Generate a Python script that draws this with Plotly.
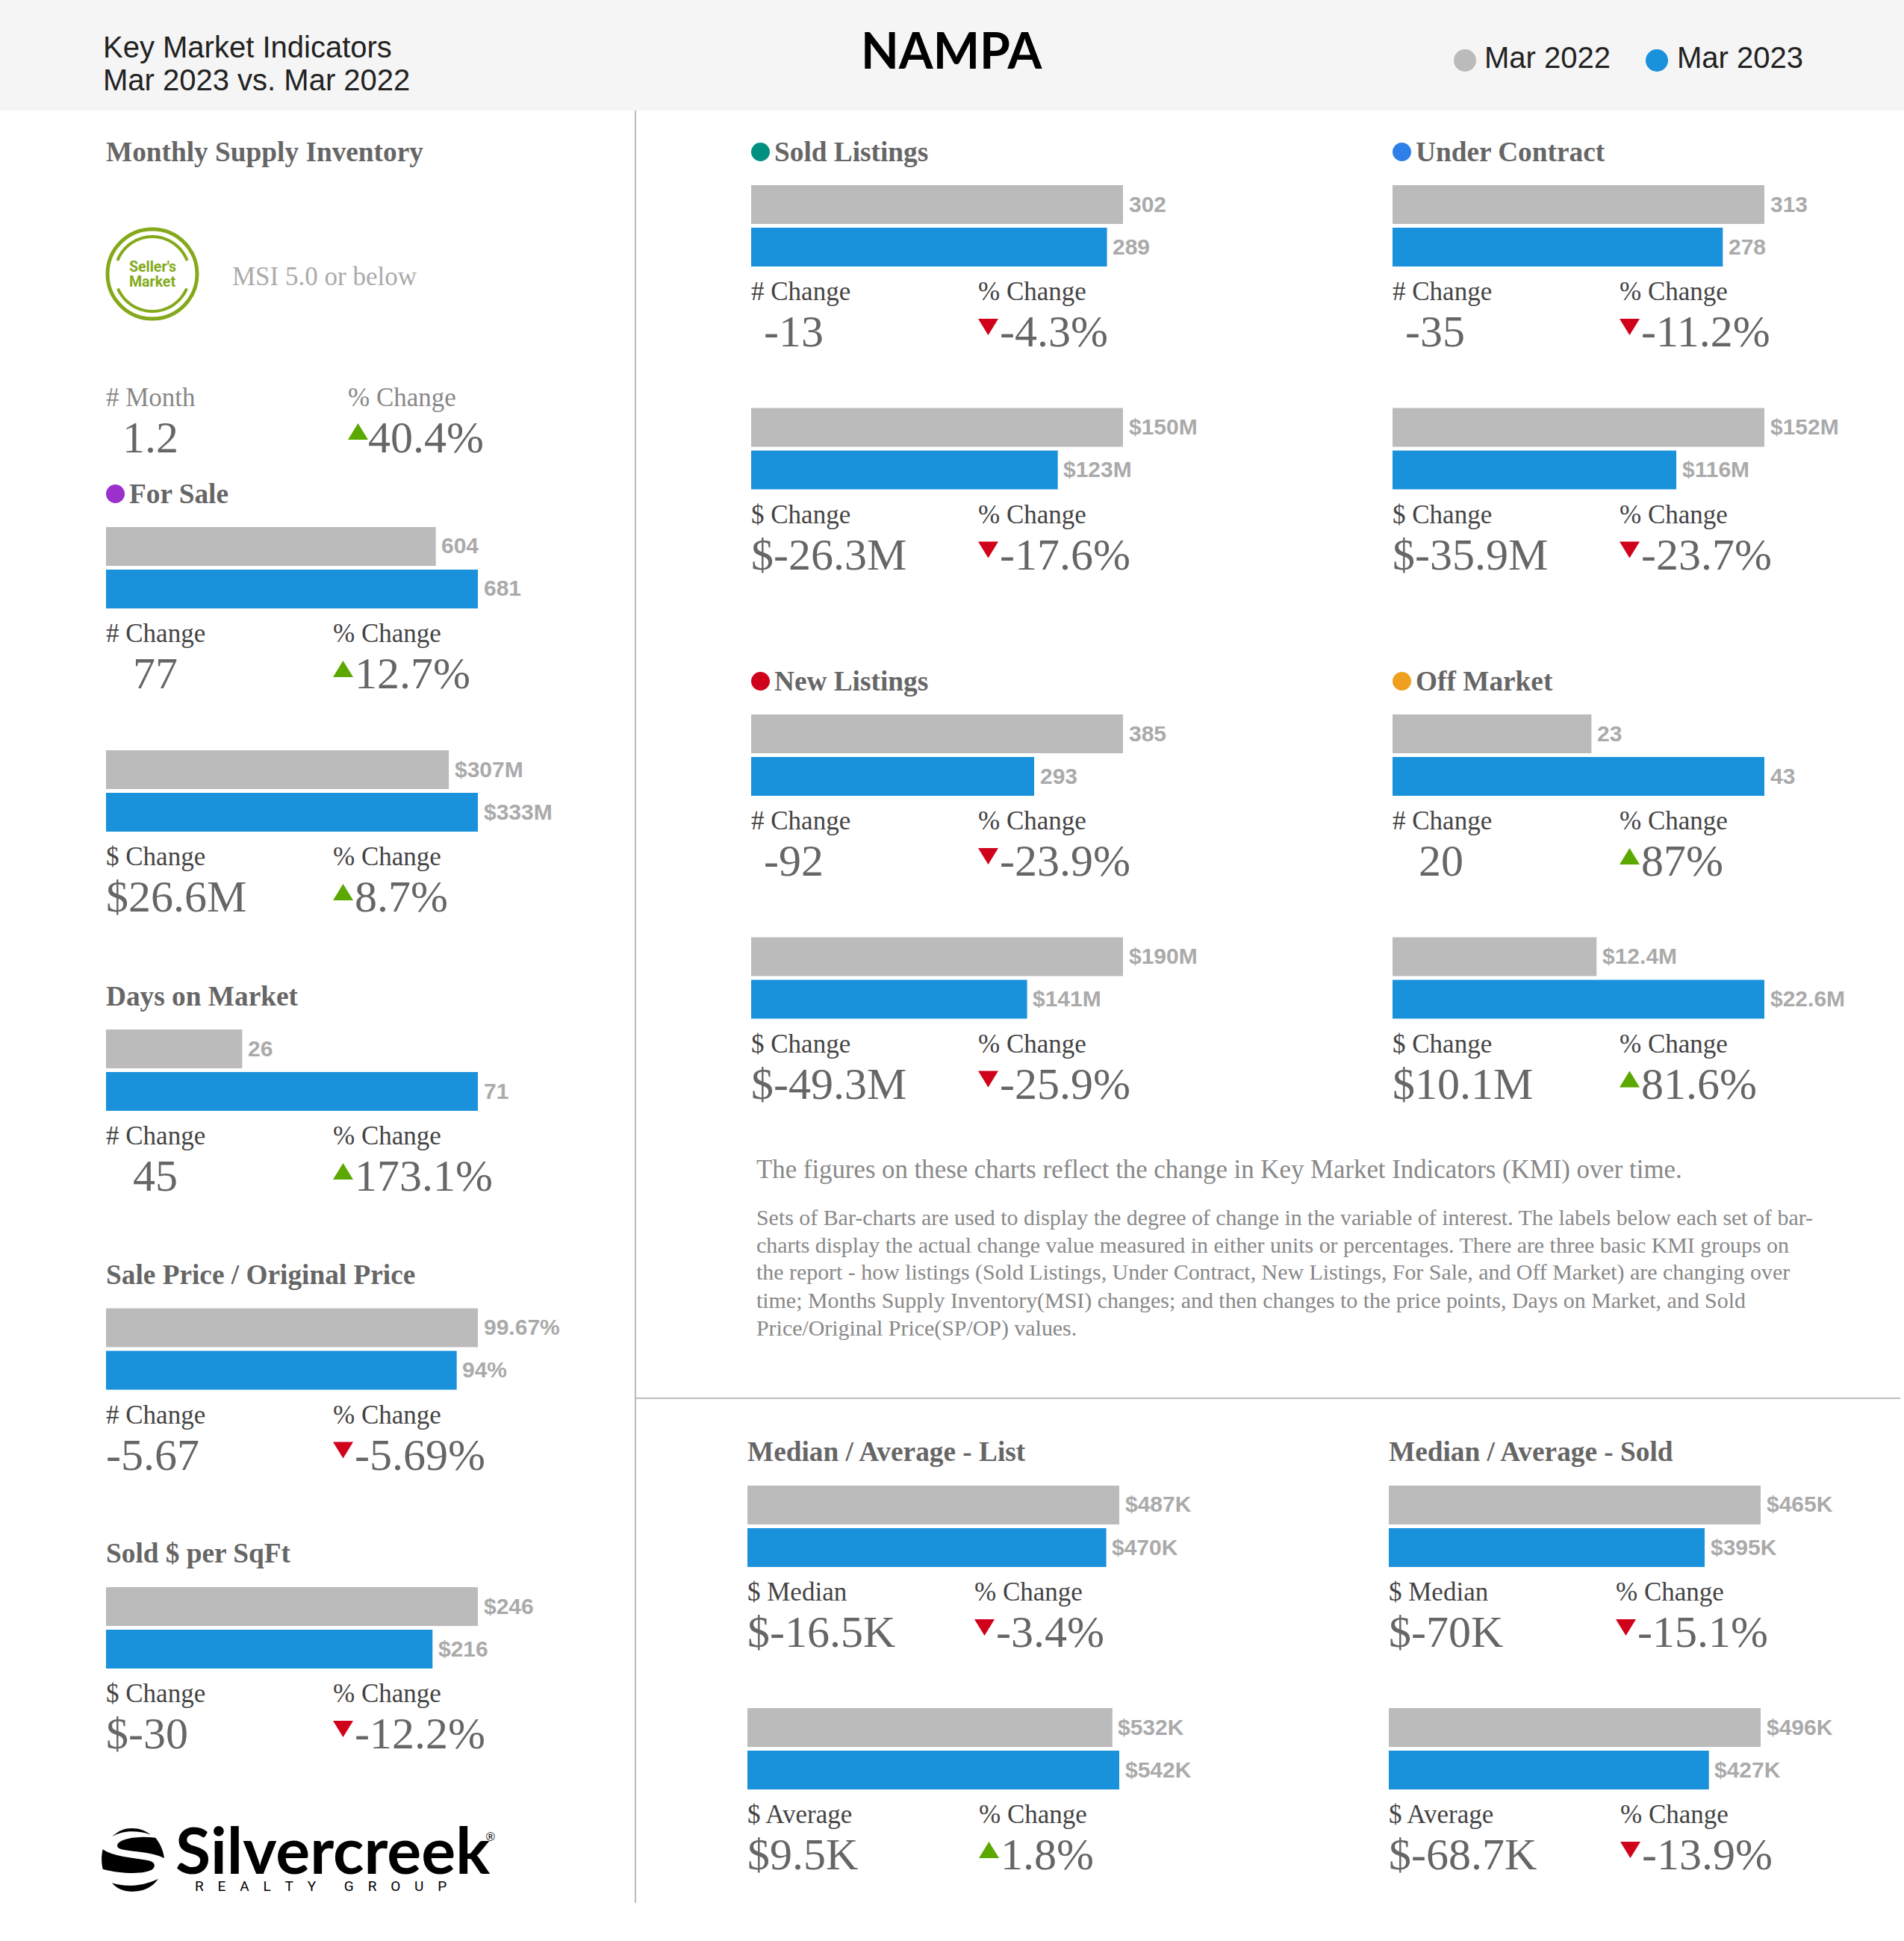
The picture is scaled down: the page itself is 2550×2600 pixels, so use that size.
import numpy as np
import plotly.graph_objects as go

# ---------- data ----------
categories = ["For Sale", "For Sale $", "Days on Market", "Sale Price / Original Price", "Sold $ per SqFt",
              "Sold Listings", "Sold Listings $", "Under Contract", "Under Contract $",
              "New Listings", "New Listings $", "Off Market", "Off Market $",
              "Median List", "Average List", "Median Sold", "Average Sold"]
values_2022 = [604, 307, 26, 99.67, 246, 302, 150, 313, 152, 385, 190, 23, 12.4, 487, 532, 465, 496]
values_2023 = [681, 333, 71, 94, 216, 289, 123.7, 278, 116, 293, 141, 43, 22.6, 470, 542, 395, 427]
labels_2022 = ["604", "$307M", "26", "99.67%", "$246", "302", "$150M", "313", "$152M", "385", "$190M", "23",
               "$12.4M", "$487K", "$532K", "$465K", "$496K"]
labels_2023 = ["681", "$333M", "71", "94%", "$216", "289", "$123M", "278", "$116M", "293", "$141M", "43",
               "$22.6M", "$470K", "$542K", "$395K", "$427K"]
change_names = ["# Change", "$ Change", "# Change", "# Change", "$ Change", "# Change", "$ Change", "# Change",
                "$ Change", "# Change", "$ Change", "# Change", "$ Change", "$ Median", "$ Average", "$ Median",
                "$ Average"]
change_values = ["77", "$26.6M", "45", "-5.67", "$-30", "-13", "$-26.3M", "-35", "$-35.9M", "-92", "$-49.3M", "20",
                 "$10.1M", "$-16.5K", "$9.5K", "$-70K", "$-68.7K"]
pct_changes = ["12.7%", "8.7%", "173.1%", "-5.69%", "-12.2%", "-4.3%", "-17.6%", "-11.2%", "-23.7%", "-23.9%",
               "-25.9%", "87%", "81.6%", "-3.4%", "1.8%", "-15.1%", "-13.9%"]
series_names = ["Mar 2022", "Mar 2023"]

# ---------- layout of the board (pixels) ----------
W, H = 2550, 2600
BAR_W = 498
panel_x = [142, 142, 142, 142, 142, 1006, 1006, 1865, 1865, 1006, 1006, 1865, 1865, 1001, 1001, 1860, 1860]
panel_y = [706, 1005, 1379, 1752.5, 2126, 248, 546.5, 248, 546.5, 957, 1255.5, 957, 1255.5, 1990, 2288, 1990, 2288]
value_dx = [36, 0, 36, 0, 0, 17, 0, 17, 0, 17, 0, 35, 0, 0, 0, 0, 0]
pct_dx = [304, 304, 304, 304, 304, 304, 304, 304, 304, 304, 304, 304, 304, 304, 310, 304, 310]
titles = [("Monthly Supply Inventory", 142, 203.5, None),
          ("For Sale", 142, 661.5, "#9B30CC"), ("Days on Market", 142, 1334.5, None),
          ("Sale Price / Original Price", 142, 1707.5, None), ("Sold $ per SqFt", 142, 2080.5, None),
          ("Sold Listings", 1006, 203.5, "#009080"), ("Under Contract", 1865, 203.5, "#2E7FE8"),
          ("New Listings", 1006, 912.5, "#D0021B"), ("Off Market", 1865, 912.5, "#F0A020"),
          ("Median / Average - List", 1001, 1944, None), ("Median / Average - Sold", 1860, 1944, None)]
para_head = "The figures on these charts reflect the change in Key Market Indicators (KMI) over time."
para_lines = ["Sets of Bar-charts are used to display the degree of change in the variable of interest. The labels below each set of bar-",
              "charts display the actual change value measured in either units or percentages. There are three basic KMI groups on",
              "the report - how listings (Sold Listings, Under Contract, New Listings, For Sale, and Off Market) are changing over",
              "time; Months Supply Inventory(MSI) changes; and then changes to the price points, Days on Market, and Sold",
              "Price/Original Price(SP/OP) values."]
logo_word = "Silvercreek"
logo_sub = "REALTY GROUP"

GREY, BLUE = "#BBBBBB", "#1A91DB"
SERIF, SANS = "Liberation Serif", "Liberation Sans"
RED, GREEN = "#D0021B", "#5BA800"
LIME = "#84A91A"

def X(x): return x / W
def Y(y): return 1 - y / H

fig = go.Figure()
ann, shapes = [], []

def text(x, y, s, size, color, family=SERIF, bold=False, anchor="left"):
    if anchor == "left":
        x -= 1
    ann.append(dict(x=X(x), y=Y(y), xref="paper", yref="paper", text=f"<b>{s}</b>" if bold else s, showarrow=False,
                    xanchor=anchor, yanchor="middle", borderpad=0, font=dict(size=size, color=color, family=family)))

def disc(cx, cy, d, color):
    shapes.append(dict(type="circle", xref="paper", yref="paper", x0=X(cx - d / 2), x1=X(cx + d / 2),
                       y0=Y(cy - d / 2), y1=Y(cy + d / 2), fillcolor=color, line_width=0, layer="above"))

def path(points, fill=None, line=None, lw=0):
    d = "M " + " L ".join(f"{X(a):.5f},{Y(b):.5f}" for a, b in points)
    if fill:
        d += " Z"
    shapes.append(dict(type="path", xref="paper", yref="paper", path=d, fillcolor=fill,
                       line=dict(color=line or "rgba(0,0,0,0)", width=lw), layer="above"))

def triangle(x, cy, up):
    color = GREEN if up else RED
    if up:
        path([(x, cy + 11), (x + 27, cy + 11), (x + 13.5, cy - 11)], fill=color)
    else:
        path([(x, cy - 11), (x + 27, cy - 11), (x + 13.5, cy + 11)], fill=color)

def blob(start, *curves):
    """Closed black outline of the logo mark; points are in a 3x crop anchored at (125, 2435)."""
    def p(pt):
        return f"{X(125 + pt[0] / 3):.5f},{Y(2435 + pt[1] / 3):.5f}"
    d = "M " + p(start)
    for c in curves:
        d += " C " + " ".join(p(q) for q in c)
    shapes.append(dict(type="path", xref="paper", yref="paper", path=d + " Z", fillcolor="#000000",
                       line_width=0, layer="above"))

# ---------- panels ----------
for i in range(len(categories)):
    x0, y0 = panel_x[i], panel_y[i]
    ax = "" if i == 0 else str(i + 1)
    vals = (values_2022[i], values_2023[i])
    for name, v, c, lab in zip(series_names, vals, (GREY, BLUE), (labels_2022[i], labels_2023[i])):
        fig.add_trace(go.Bar(x=[v], y=[name], orientation="h", marker=dict(color=c, line_width=0), width=0.912,
                             name=name, showlegend=False, xaxis="x" + ax, yaxis="y" + ax,
                             hovertemplate=categories[i] + " " + name + ": " + lab + "<extra></extra>"))
        ann.append(dict(x=v, y=name, xref="x" + ax, yref="y" + ax, text=f"<b>{lab}</b>", showarrow=False,
                        xanchor="left", yanchor="middle", xshift=6.5, yshift=1, borderpad=0,
                        font=dict(size=30, color="#AAAAAA", family=SANS)))
    fig.update_layout({
        "xaxis" + ax: dict(domain=[X(x0), X(x0 + BAR_W)], range=[0, max(vals)], visible=False, fixedrange=True,
                           anchor="y" + ax),
        "yaxis" + ax: dict(domain=[Y(y0 + 111.5), Y(y0 - 2.5)], categoryorder="array",
                           categoryarray=series_names[::-1], range=[-0.5, 1.5], visible=False, fixedrange=True,
                           anchor="x" + ax),
    })
    text(x0, y0 + 142.7, change_names[i], 35, "#444444")
    text(x0 + value_dx[i], y0 + 196.3, change_values[i], 60, "#666666")
    px = x0 + pct_dx[i]
    text(px, y0 + 142.7, "% Change", 35, "#444444")
    up = not pct_changes[i].startswith("-")
    triangle(px, y0 + 190, up)
    text(px + 29, y0 + 196.3, pct_changes[i], 60, "#666666")

# ---------- titles ----------
for t, x, y, dot in titles:
    if dot:
        disc(x + 12.5, y, 25, dot)
        text(x + 31, y, t, 37.3, "#666666", bold=True)
    else:
        text(x, y, t, 37.3, "#666666", bold=True)

# ---------- header ----------
shapes.insert(0, dict(type="rect", xref="paper", yref="paper", x0=0, x1=1, y0=Y(148), y1=1, fillcolor="#F5F5F5",
                      line_width=0, layer="below"))
text(138, 62.5, "Key Market Indicators", 40, "#222222", SANS)
text(138, 107.5, "Mar 2023 vs. Mar 2022", 40, "#222222", SANS)
text(1275, 66.5, "NAMPA", 66, "#000000", "Lato", True, "center")
disc(1962, 81, 30, GREY)
text(1987.5, 77, series_names[0], 40, "#222222", SANS)
disc(2219, 81, 30, BLUE)
text(2245.5, 77, series_names[1], 40, "#222222", SANS)

# ---------- dividers ----------
shapes.append(dict(type="line", xref="paper", yref="paper", x0=X(851), x1=X(851), y0=Y(148), y1=Y(2549),
                   line=dict(color="#BBBBBB", width=2)))
shapes.append(dict(type="line", xref="paper", yref="paper", x0=X(851), x1=X(2545), y0=Y(1873), y1=Y(1873),
                   line=dict(color="#BBBBBB", width=2)))

# ---------- MSI block ----------
cx, cy = 204, 367
shapes.append(dict(type="circle", xref="paper", yref="paper", x0=X(cx - 60), x1=X(cx + 60), y0=Y(cy - 60),
                   y1=Y(cy + 60), line=dict(color=LIME, width=5), fillcolor="white"))
for a0, a1 in ((201, 339), (23, 157)):
    t = np.radians(np.linspace(a0, a1, 40))
    path(list(zip(cx + 50 * np.cos(t), cy + 50 * np.sin(t))), line=LIME, lw=4)
text(cx, 358, "Seller's", 19.5, LIME, "Roboto", True, "center")
text(cx, 377.5, "Market", 19.5, LIME, "Roboto", True, "center")
text(311, 370.5, "MSI 5.0 or below", 35, "#AAAAAA")
text(142, 532, "# Month", 35, "#888888")
text(164, 585.5, "1.2", 60, "#666666")
text(466, 532, "% Change", 35, "#888888")
triangle(466, 578, True)
text(493, 585.5, "40.4%", 60, "#666666")

# ---------- explanatory text ----------
text(1012.5, 1567, para_head, 34.8, "#888888")
for k, line in enumerate(para_lines):
    text(1012.5, 1630 + k * 37.2, line, 29.9, "#888888")

# ---------- logo ----------
blob((75, 75), ((105, 50), (125, 42), (155, 42)), ((185, 42), (210, 52), (230, 68)), ((205, 58), (180, 55), (155, 55)),
     ((125, 55), (100, 62), (75, 75)))
blob((97, 108), ((105, 85), (175, 72), (250, 80)), ((270, 105), (282, 135), (285, 162)),
     ((240, 140), (180, 138), (130, 130)), ((105, 126), (93, 120), (97, 108)))
blob((38, 127), ((80, 155), (150, 160), (215, 170)), ((245, 175), (252, 190), (240, 205)),
     ((210, 230), (110, 225), (38, 206)), ((32, 180), (32, 150), (38, 127)))
blob((75, 262), ((130, 280), (200, 275), (260, 245)), ((235, 285), (190, 296), (155, 296)),
     ((120, 296), (95, 285), (75, 262)))
text(235, 2476, logo_word, 86, "#000000", "Lato", True)
text(657, 2460, "\u00ae", 16, "#000000", SANS, False, "center")
sub_letters = ["\u00a0\u00a0\u00a0\u00a0".join(w) for w in logo_sub.split(" ")]
text(261, 2526, "\u00a0\u00a0\u00a0\u00a0\u00a0\u00a0\u00a0\u00a0".join(sub_letters), 19, "#000000", "Roboto")

fig.update_layout(width=W, height=H, margin=dict(l=0, r=0, t=0, b=0), autosize=False, barmode="overlay",
                  paper_bgcolor="white", plot_bgcolor="rgba(0,0,0,0)", showlegend=False,
                  annotations=ann, shapes=shapes)
fig.write_html("out.html", config={"displayModeBar": False}, post_script="document.body.style.margin='0';")
